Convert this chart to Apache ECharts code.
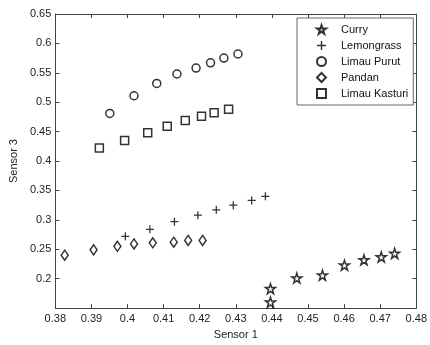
<!DOCTYPE html>
<html>
<head>
<meta charset="utf-8">
<script src="https://cdn.jsdelivr.net/npm/echarts@6/dist/echarts.min.js"></script>
<style>
  html, body { margin: 0; padding: 0; background: #fff; }
  #chart { width: 430px; height: 345px; }
</style>
</head>
<body>
<div id="chart"></div>
<script>
// Sensor 1 / Sensor 3 readings
var curryX = [0.4396, 0.4396, 0.4469, 0.4540, 0.4601, 0.4655, 0.4703, 0.4740];
var curryY = [0.160, 0.183, 0.201, 0.206, 0.223, 0.232, 0.237, 0.243];
var lemonX = [0.3994, 0.4062, 0.4130, 0.4195, 0.4246, 0.4293, 0.4344, 0.4382];
var lemonY = [0.272, 0.284, 0.297, 0.308, 0.317, 0.325, 0.333, 0.340];
var purutX = [0.3951, 0.4018, 0.4081, 0.4137, 0.4190, 0.4230, 0.4267, 0.4306];
var purutY = [0.481, 0.511, 0.532, 0.548, 0.558, 0.567, 0.575, 0.582];
var pandanX = [0.3826, 0.3906, 0.3972, 0.4018, 0.4070, 0.4128, 0.4168, 0.4208];
var pandanY = [0.240, 0.249, 0.255, 0.259, 0.261, 0.262, 0.265, 0.265];
var kasturiX = [0.3922, 0.3992, 0.4056, 0.4110, 0.4160, 0.4205, 0.4240, 0.4280];
var kasturiY = [0.422, 0.435, 0.448, 0.459, 0.469, 0.476, 0.482, 0.488];
var seriesNames = ['Curry', 'Lemongrass', 'Limau Purut', 'Pandan', 'Limau Kasturi'];

function pairs(xs, ys) {
  return xs.map(function (x, i) { return [x, ys[i]]; });
}

var starPath = 'path://M50,2 L61,36 L97,36 L68,57 L79,92 L50,71 L21,92 L32,57 L3,36 L39,36 Z';
var plusPath = 'path://M4.2,0 H5.8 V4.2 H10 V5.8 H5.8 V10 H4.2 V5.8 H0 V4.2 H4.2 Z';
var hollow = { color: '#fff', borderColor: '#000', borderWidth: 1.5 };
var font = 'Liberation Sans, Arial, sans-serif';

var option = {
  animation: false,
  grid: { left: 52, right: 11, top: 14, bottom: 34 },
  legend: {
    orient: 'vertical',
    left: 297,
    top: 18,
    data: seriesNames,
    itemWidth: 9,
    itemHeight: 9,
    itemGap: 5,
    padding: [6, 5, 6, 19],
    backgroundColor: '#fff',
    borderColor: '#666',
    borderWidth: 1,
    borderRadius: 0,
    textStyle: { color: '#111', fontSize: 11, fontFamily: font, padding: [0, 0, 0, 10] }
  },
  xAxis: [
    {
      type: 'value', min: 0.38, max: 0.48, interval: 0.01,
      name: 'Sensor 1', nameLocation: 'middle', nameGap: 19,
      nameTextStyle: { color: '#222', fontSize: 11, fontFamily: font },
      axisLine: { lineStyle: { color: '#444' } },
      axisTick: { inside: true, length: 4, lineStyle: { color: '#444' } },
      axisLabel: { color: '#222', fontSize: 11, fontFamily: font, margin: 5 },
      splitLine: { show: false }
    },
    {
      type: 'value', position: 'top', min: 0.38, max: 0.48, interval: 0.01,
      axisLine: { lineStyle: { color: '#444' } },
      axisTick: { inside: true, length: 4, lineStyle: { color: '#444' } },
      axisLabel: { show: false },
      splitLine: { show: false }
    }
  ],
  yAxis: [
    {
      type: 'value', min: 0.15, max: 0.65, interval: 0.05,
      name: 'Sensor 3', nameLocation: 'middle', nameGap: 36,
      nameTextStyle: { color: '#222', fontSize: 11, fontFamily: font },
      axisLine: { show: true, lineStyle: { color: '#444' } },
      axisTick: { show: true, inside: true, length: 4, lineStyle: { color: '#444' } },
      axisLabel: { color: '#222', fontSize: 11, fontFamily: font, margin: 4, showMinLabel: false },
      splitLine: { show: false }
    },
    {
      type: 'value', position: 'right', min: 0.15, max: 0.65, interval: 0.05,
      axisLine: { show: true, lineStyle: { color: '#444' } },
      axisTick: { show: true, inside: true, length: 4, lineStyle: { color: '#444' } },
      axisLabel: { show: false },
      splitLine: { show: false }
    }
  ],
  series: [
    {
      name: 'Curry', type: 'scatter', symbol: starPath, symbolSize: 10,
      itemStyle: hollow, data: pairs(curryX, curryY)
    },
    {
      name: 'Lemongrass', type: 'scatter', symbol: plusPath, symbolSize: 8,
      itemStyle: { color: '#000' }, data: pairs(lemonX, lemonY)
    },
    {
      name: 'Limau Purut', type: 'scatter', symbol: 'circle', symbolSize: 8,
      itemStyle: hollow, data: pairs(purutX, purutY)
    },
    {
      name: 'Pandan', type: 'scatter', symbol: 'diamond', symbolSize: [7, 10],
      itemStyle: hollow, data: pairs(pandanX, pandanY)
    },
    {
      name: 'Limau Kasturi', type: 'scatter', symbol: 'rect', symbolSize: 8,
      itemStyle: hollow, data: pairs(kasturiX, kasturiY)
    }
  ]
};

var myChart = echarts.init(document.getElementById('chart'));
myChart.setOption(option);
</script>
</body>
</html>
